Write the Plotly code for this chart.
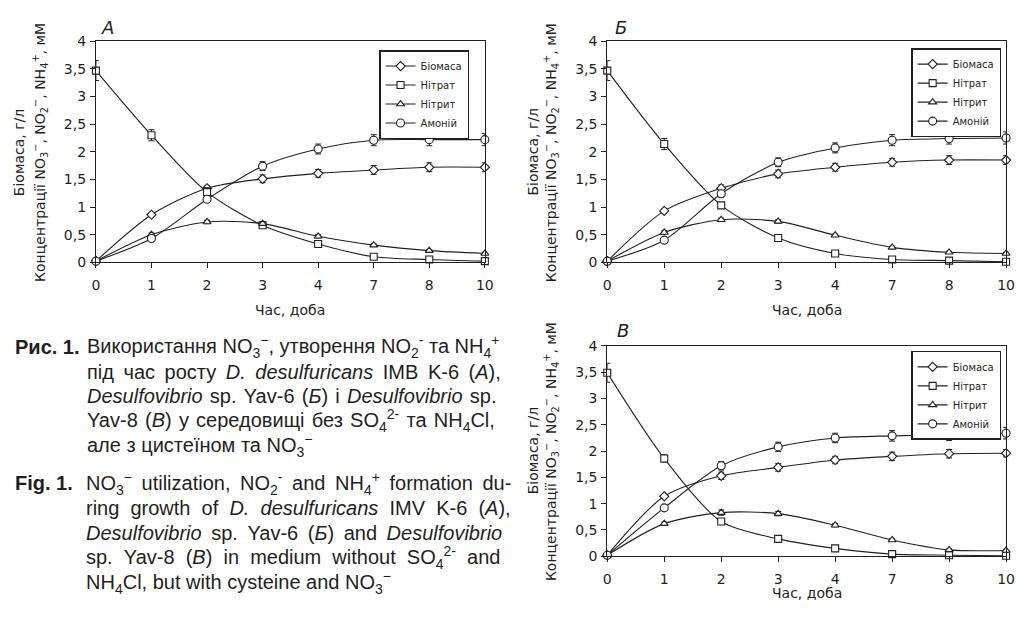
import plotly.graph_objects as go

# ---------------- data ----------------
days = ["0", "1", "2", "3", "4", "7", "8", "10"]
series_names = ["Біомаса", "Нітрат", "Нітрит", "Амоній"]
y_tickvals = [0, 0.5, 1, 1.5, 2, 2.5, 3, 3.5, 4]
y_ticktext = ["0", "0,5", "1", "1,5", "2", "2,5", "3", "3,5", "4"]

# Panel A
A_biomass = [0.02, 0.86, 1.34, 1.51, 1.61, 1.67, 1.72, 1.72]
A_nitrate = [3.47, 2.30, 1.27, 0.67, 0.33, 0.10, 0.05, 0.02]
A_nitrite = [0.02, 0.50, 0.73, 0.70, 0.47, 0.31, 0.21, 0.16]
A_ammonium = [0.02, 0.43, 1.14, 1.74, 2.05, 2.21, 2.22, 2.22]
A_biomass_err = [0.02, 0.03, 0.04, 0.07, 0.07, 0.08, 0.08, 0.08]
A_nitrate_err = [0.18, 0.10, 0.08, 0.03, 0.03, 0.02, 0.02, 0.02]
A_nitrite_err = [0.02, 0.03, 0.03, 0.03, 0.03, 0.02, 0.02, 0.02]
A_ammonium_err = [0.02, 0.03, 0.05, 0.08, 0.09, 0.10, 0.11, 0.11]

# Panel Б
B_biomass = [0.02, 0.93, 1.34, 1.60, 1.72, 1.81, 1.85, 1.85]
B_nitrate = [3.47, 2.14, 1.03, 0.44, 0.16, 0.05, 0.03, 0.01]
B_nitrite = [0.02, 0.54, 0.77, 0.74, 0.49, 0.27, 0.18, 0.16]
B_ammonium = [0.02, 0.40, 1.24, 1.81, 2.07, 2.21, 2.24, 2.25]
B_biomass_err = [0.02, 0.03, 0.06, 0.07, 0.07, 0.07, 0.08, 0.08]
B_nitrate_err = [0.18, 0.10, 0.03, 0.02, 0.02, 0.02, 0.02, 0.02]
B_nitrite_err = [0.02, 0.03, 0.03, 0.03, 0.02, 0.02, 0.02, 0.02]
B_ammonium_err = [0.02, 0.03, 0.06, 0.08, 0.09, 0.10, 0.10, 0.11]

# Panel В
V_biomass = [0.02, 1.14, 1.53, 1.69, 1.83, 1.90, 1.95, 1.96]
V_nitrate = [3.49, 1.86, 0.66, 0.33, 0.15, 0.04, 0.02, 0.01]
V_nitrite = [0.02, 0.62, 0.83, 0.81, 0.59, 0.31, 0.12, 0.11]
V_ammonium = [0.02, 0.92, 1.72, 2.08, 2.25, 2.29, 2.31, 2.34]
V_biomass_err = [0.02, 0.03, 0.07, 0.07, 0.07, 0.08, 0.08, 0.07]
V_nitrate_err = [0.18, 0.07, 0.03, 0.02, 0.02, 0.02, 0.02, 0.02]
V_nitrite_err = [0.02, 0.03, 0.05, 0.04, 0.03, 0.02, 0.02, 0.02]
V_ammonium_err = [0.02, 0.04, 0.08, 0.09, 0.09, 0.10, 0.11, 0.11]

panels = [
    ("x", "y", "legend", [A_biomass, A_nitrate, A_nitrite, A_ammonium],
     [A_biomass_err, A_nitrate_err, A_nitrite_err, A_ammonium_err]),
    ("x2", "y2", "legend2", [B_biomass, B_nitrate, B_nitrite, B_ammonium],
     [B_biomass_err, B_nitrate_err, B_nitrite_err, B_ammonium_err]),
    ("x3", "y3", "legend3", [V_biomass, V_nitrate, V_nitrite, V_ammonium],
     [V_biomass_err, V_nitrate_err, V_nitrite_err, V_ammonium_err]),
]

symbols = ["diamond", "square", "triangle-up", "circle"]
sizes = [7, 7, 7, 8]
INK = "#231f20"
CFONT = "DejaVu Sans, Verdana, sans-serif"       # chart text (wide glyphs)
TFONT = "Liberation Sans, Arial, sans-serif"     # caption text

fig = go.Figure()
for xa, ya, leg, vals, errs in panels:
    for name, sym, sz, v, e in zip(series_names, symbols, sizes, vals, errs):
        fig.add_trace(go.Scatter(
            x=days, y=v, name=name, xaxis=xa, yaxis=ya, legend=leg,
            mode="lines+markers", cliponaxis=False,
            line=dict(color=INK, width=1.1, shape="spline", smoothing=0.8),
            marker=dict(symbol=sym, size=sz, color="white",
                        line=dict(color=INK, width=1.1)),
            error_y=dict(type="data", array=e, visible=True, color=INK,
                         thickness=1, width=3),
        ))

# page body has an 8px margin: figure is shrunk and coordinates shifted
W, H, OFF = 1029, 617, 8
FW, FH = W - 2 * OFF, H - 2 * OFF
def px(x): return (x - OFF) / FW
def py(y): return 1 - (y - OFF) / FH

axis_common = dict(showline=True, linecolor=INK, linewidth=1, mirror=True,
                   ticks="outside", ticklen=5, tickcolor=INK, showgrid=False,
                   zeroline=False, tickfont=dict(family=CFONT, size=14, color=INK))

def xaxis(domain, anchor):
    return dict(axis_common, type="category", range=[0, 7], domain=domain,
                anchor=anchor, categoryorder="array", categoryarray=days,
                ticklabelstandoff=5)

def yaxis(domain, anchor):
    return dict(axis_common, range=[0, 4], domain=domain, anchor=anchor,
                tickvals=y_tickvals, ticktext=y_ticktext, ticklabelstandoff=1)

def yaxis_inner(overlay, anchor):
    # second set of short ticks inside the plot so that the ticks cross the axis
    return dict(overlaying=overlay, anchor=anchor, side="left", range=[0, 4],
                tickvals=y_tickvals, showticklabels=False, ticks="inside",
                ticklen=4, tickcolor=INK, showline=False, showgrid=False,
                zeroline=False)

dom_A_x = [px(93), px(487)]
dom_B_x = [px(611), px(1015)]
dom_top_y = [py(261), py(34)]
dom_V_y = [py(563), py(347)]

legend_common = dict(bgcolor="white", bordercolor=INK, borderwidth=1.5,
                     font=dict(family=CFONT, size=10, color=INK),
                     xanchor="right", yanchor="top", itemwidth=30,
                     tracegroupgap=0)

fig.update_layout(
    width=FW, height=FH, margin=dict(l=0, r=0, t=0, b=0),
    paper_bgcolor="white", plot_bgcolor="white",
    font=dict(family=CFONT, color=INK),
    xaxis=xaxis(dom_A_x, "y"), yaxis=yaxis(dom_top_y, "x"),
    xaxis2=xaxis(dom_B_x, "y2"), yaxis2=yaxis(dom_top_y, "x2"),
    xaxis3=xaxis(dom_B_x, "y3"), yaxis3=yaxis(dom_V_y, "x3"),
    yaxis4=yaxis_inner("y", "x"), yaxis5=yaxis_inner("y2", "x2"),
    yaxis6=yaxis_inner("y3", "x3"),
    legend=dict(legend_common, x=px(471), y=py(43)),
    legend2=dict(legend_common, x=px(1010), y=py(41)),
    legend3=dict(legend_common, x=px(1010), y=py(352)),
)

annotations = []
def ann(x, y, text, size=13, xanchor="center", angle=0, family=CFONT, **kw):
    annotations.append(dict(x=px(x), y=py(y), xref="paper", yref="paper",
                            text=text, showarrow=False, xanchor=xanchor,
                            yanchor="middle", textangle=angle, borderpad=0,
                            font=dict(family=family, size=size, color=INK), **kw))

ytitle1 = "Біомаса, г/л"
ytitle2 = "Концентрації NO<sub>3</sub><sup>−</sup>, NO<sub>2</sub><sup>−</sup>, NH<sub>4</sub><sup>+</sup>, мМ"
# panel titles
ann(105, 20, "<i>A</i>", size=18)
ann(625, 20, "<i>Б</i>", size=18)
ann(627, 331, "<i>В</i>", size=18)
# y titles
ann(15, 148, ytitle1, size=14, angle=-90)
ann(37, 148, ytitle2, size=14, angle=-90)
ann(536, 148, ytitle1, size=14, angle=-90)
ann(554, 148, ytitle2, size=14, angle=-90)
ann(536, 455, ytitle1, size=14, angle=-90)
ann(554, 455, ytitle2, size=14, angle=-90)
# x titles
ann(290, 310, "Час, доба", size=14)
ann(813, 310, "Час, доба", size=14)
ann(813, 601, "Час, доба", size=14)

# caption (extra inter-word space imitates the justified text block)
def spaced(t, pad):
    return t.replace(" ", " " + pad) if pad else t

NB, TH, HS = "\u00a0", "\u2009", "\u200a"
ua_lines = [
    ("Використання NO<sub>3</sub><sup>−</sup>, утворення NO<sub>2</sub><sup>-</sup> та NH<sub>4</sub><sup>+</sup>", ""),
    ("під час росту <i>D. desulfuricans</i> IMB K-6 (<i>A</i>),", TH),
    ("<i>Desulfovibrio</i> sp. Yav-6 (<i>Б</i>) і <i>Desulfovibrio</i> sp.", HS),
    ("Yav-8 (<i>B</i>) у середовищі без SO<sub>4</sub><sup>2-</sup> та NH<sub>4</sub>Cl,", HS),
    ("але з цистеїном та NO<sub>3</sub><sup>−</sup>", ""),
]
en_lines = [
    ("NO<sub>3</sub><sup>−</sup> utilization, NO<sub>2</sub><sup>-</sup> and NH<sub>4</sub><sup>+</sup> formation du-", TH),
    ("ring growth of <i>D. desulfuricans</i> IMV K-6 (<i>A</i>),", NB),
    ("<i>Desulfovibrio</i> sp. Yav-6 (<i>Б</i>) and <i>Desulfovibrio</i>", TH),
    ("sp. Yav-8 (<i>B</i>) in medium without SO<sub>4</sub><sup>2-</sup> and", NB),
    ("NH<sub>4</sub>Cl, but with cysteine and NO<sub>3</sub><sup>−</sup>", ""),
]
ann(10, 348, "<b>Рис. 1.</b>", size=20, xanchor="left", family=TFONT)
for i, (t, pad) in enumerate(ua_lines):
    ann(83, 348 + i * 25.3, spaced(t, pad), size=20, xanchor="left", family=TFONT)
ann(10, 488, "<b>Fig. 1.</b>", size=20, xanchor="left", family=TFONT)
for i, (t, pad) in enumerate(en_lines):
    ann(82, 488 + i * 25.5, spaced(t, pad), size=20, xanchor="left", family=TFONT)

fig.update_layout(annotations=annotations)
fig.write_html("out.html")
